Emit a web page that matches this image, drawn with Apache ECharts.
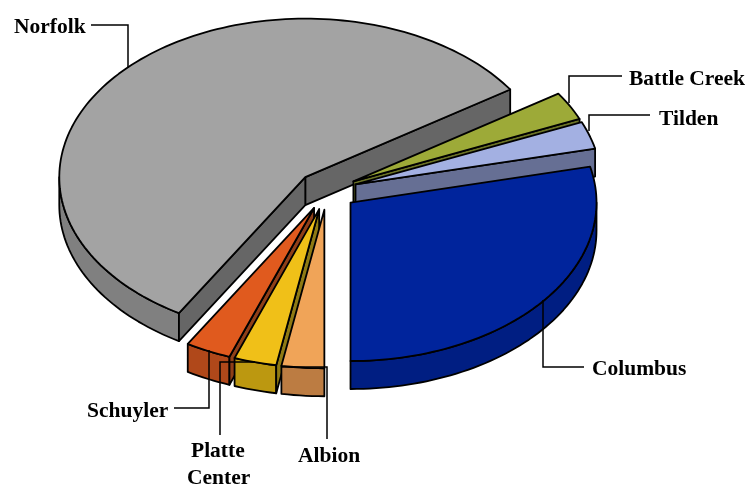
<!DOCTYPE html>
<html>
<head>
<meta charset="utf-8">
<style>html,body{margin:0;padding:0;background:#fff}#c{width:752px;height:487px}</style>
<script src="https://cdn.jsdelivr.net/npm/echarts@6/dist/echarts.min.js"></script>
</head>
<body>
<div id="c"></div>
<script>
// Data, counter-clockwise from the bottom of the pie
var categories = ['Columbus', 'Tilden', 'Battle Creek', 'Norfolk', 'Schuyler', 'Platte Center', 'Albion'];
var shares = [28.7, 2.8, 2.9, 57.2, 3.0, 2.8, 2.8];
var topColors = ['#00249C', '#A3B0E2', '#9DAA38', '#A3A3A3', '#E05A1E', '#F0C018', '#F0A458'];
var rimColors = ['#001E82', '#7F89B0', '#7C862C', '#808080', '#B0481A', '#BC9810', '#BC7C42'];
var cutColors = ['#001A70', '#666F94', '#6B7326', '#666666', '#8F3F18', '#8F7A14', '#8F6232'];

// Projection of the tilted pie
var CX = 327, CY = 190.5, RX = 246, RY = 158.5, DEPTH = 28, EXPLODE = 0.122, START = 270;

// Callouts
var callouts = [
  { text: 'Norfolk', x: 14, y: 27, line: [[91, 25], [128, 25], [128, 68]] },
  { text: 'Battle Creek', x: 629, y: 79, line: [[622, 76], [569, 76], [569, 103]] },
  { text: 'Tilden', x: 659, y: 119, line: [[650, 115], [589, 115], [589, 131]] },
  { text: 'Columbus', x: 592, y: 369, line: [[584, 367], [543, 367], [543, 300]] },
  { text: 'Schuyler', x: 87, y: 411, line: [[174, 408], [209, 408], [209, 350]] },
  { text: 'Platte', x: 191, y: 451, line: [[220, 435], [220, 362], [255, 362]] },
  { text: 'Center', x: 187, y: 478, line: null },
  { text: 'Albion', x: 298, y: 456, line: [[327, 439], [327, 367], [282, 367]] }
];

var total = shares.reduce(function (a, b) { return a + b; }, 0);
var rows = [], acc = START;
shares.forEach(function (v, i) {
  var sweep = v / total * 360;
  var mid = (acc + sweep / 2) * Math.PI / 180;
  rows.push({ value: [acc, acc + sweep, i, CX + EXPLODE * RX * Math.cos(mid), CY - EXPLODE * RY * Math.sin(mid)] });
  acc += sweep;
});
rows.sort(function (a, b) { return a.value[4] - b.value[4]; });

function pt(cx, cy, deg, dz) {
  var r = deg * Math.PI / 180;
  return [cx + RX * Math.cos(r), cy - RY * Math.sin(r) + (dz || 0)];
}
function arc(cx, cy, a, b, dz) {
  var out = [], n = Math.max(2, Math.ceil(Math.abs(b - a) / 1.5));
  for (var k = 0; k <= n; k++) out.push(pt(cx, cy, a + (b - a) * k / n, dz));
  return out;
}
function poly(points, fill) {
  return { type: 'polygon', silent: true, shape: { points: points },
    style: { fill: fill, stroke: '#000', lineWidth: 1.8, lineJoin: 'round' } };
}
function cutFace(cx, cy, deg, fill) {
  var p = pt(cx, cy, deg);
  return poly([[cx, cy], p, [p[0], p[1] + DEPTH], [cx, cy + DEPTH]], fill);
}

function renderItem(params, api) {
  var a = api.value(0), b = api.value(1), i = api.value(2), cx = api.value(3), cy = api.value(4);
  var kids = [];
  // outer rim: only the part on the viewer's side
  [[180, 360], [540, 720]].forEach(function (w) {
    var s = Math.max(a, w[0]), e = Math.min(b, w[1]);
    if (e > s) {
      kids.push(poly(arc(cx, cy, s, e, 0).concat(arc(cx, cy, e, s, DEPTH)), rimColors[i]));
    }
  });
  // radial cuts that face the viewer
  if (Math.cos(a * Math.PI / 180) > 0.001) kids.push(cutFace(cx, cy, a, cutColors[i]));
  if (Math.cos(b * Math.PI / 180) < -0.001) kids.push(cutFace(cx, cy, b, cutColors[i]));
  // top face
  kids.push(poly([[cx, cy]].concat(arc(cx, cy, a, b, 0)), topColors[i]));
  return { type: 'group', children: kids };
}

var graphics = [];
callouts.forEach(function (c) {
  if (c.line) graphics.push({ type: 'polyline', silent: true, z: 10, shape: { points: c.line },
    style: { fill: null, stroke: '#000', lineWidth: 1.5 } });
  graphics.push({ type: 'text', silent: true, z: 11, x: c.x, y: c.y,
    style: { text: c.text, fill: '#000', font: 'bold 21.5px "Liberation Serif"', verticalAlign: 'middle' } });
});

var chart = echarts.init(document.getElementById('c'), null, { renderer: 'canvas' });
chart.setOption({
  animation: false,
  backgroundColor: '#fff',
  series: [{ type: 'custom', coordinateSystem: 'none', renderItem: renderItem, data: rows, silent: true, animation: false, z: 2 }],
  graphic: graphics
});
</script>
</body>
</html>
